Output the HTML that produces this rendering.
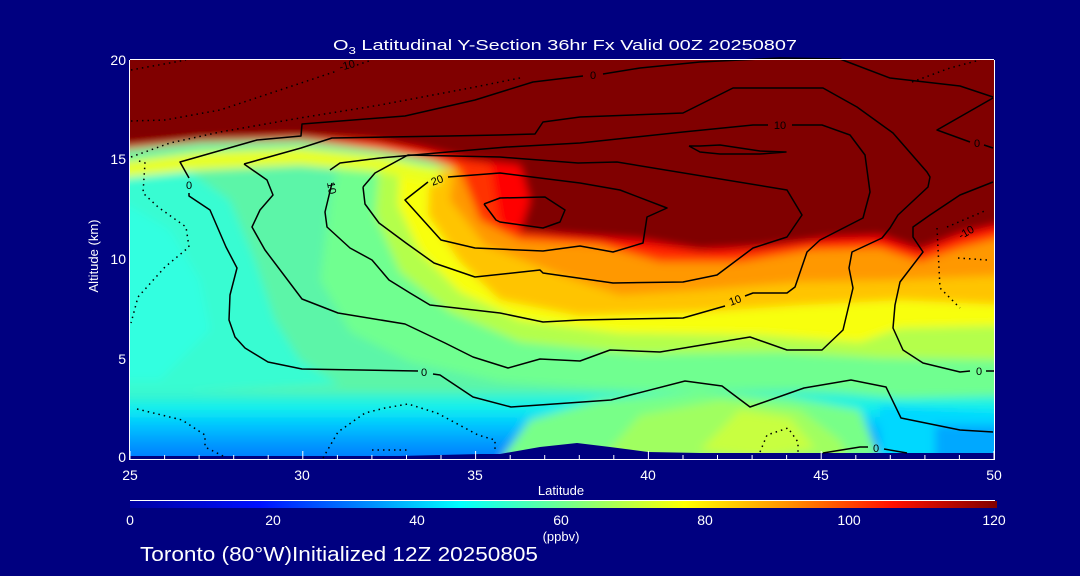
<!DOCTYPE html>
<html><head><meta charset="utf-8"><style>
html,body{margin:0;padding:0;background:#000080;}
svg{display:block;font-family:"Liberation Sans",sans-serif;}
</style></head><body>
<svg width="1080" height="576" viewBox="0 0 1080 576" xmlns="http://www.w3.org/2000/svg">
<defs>
<clipPath id="pc"><rect x="130" y="60" width="864" height="399"/></clipPath>
<filter id="bl" x="-5%" y="-5%" width="110%" height="110%"><feGaussianBlur stdDeviation="4.5"/></filter>
<linearGradient id="bot" x1="0" y1="0" x2="0" y2="1">
<stop offset="0" stop-color="#40f5c8"/><stop offset="0.2" stop-color="#10f0ee"/>
<stop offset="0.4" stop-color="#00c8ff"/><stop offset="0.65" stop-color="#0098ff"/>
<stop offset="0.85" stop-color="#0078ff"/><stop offset="1" stop-color="#0060f0"/>
</linearGradient>
<linearGradient id="cb" x1="0" y1="0" x2="1" y2="0">
<stop offset="0" stop-color="#0000a0"/><stop offset="0.15" stop-color="#0010ff"/>
<stop offset="0.28" stop-color="#0090ff"/><stop offset="0.38" stop-color="#00ffff"/>
<stop offset="0.5" stop-color="#70ff90"/><stop offset="0.64" stop-color="#ffff00"/>
<stop offset="0.76" stop-color="#ff9000"/><stop offset="0.88" stop-color="#ff1000"/>
<stop offset="1" stop-color="#800000"/>
</linearGradient>
</defs>

<g clip-path="url(#pc)">
<g filter="url(#bl)">
<rect x="120" y="50" width="890" height="420" fill="#5cf5a8"/>
<polygon points="120,160 180,165 230,200 255,260 275,320 300,360 340,385 120,395" fill="#38fcd2"/>
<polygon points="120,200 170,230 200,280 210,330 160,380 120,380" fill="#30ffe0"/>
<rect x="120" y="392" width="890" height="80" fill="url(#bot)"/>
<polygon points="500,460 530,420 600,400 700,392 790,398 860,410 880,460" fill="#78ff88"/>
<polygon points="600,460 640,415 720,400 800,410 840,440 850,460" fill="#a0ff60"/>
<polygon points="700,450 740,410 790,418 815,448 760,458" fill="#c8ff40"/>
<polygon points="880,405 994,412 1010,470 880,470" fill="#00d8ff"/>
<polygon points="935,425 1010,425 1010,470 935,470" fill="#00a8ff"/>
<polygon points="340,160 400,158 470,175 1010,200 1010,395 900,398 800,388 650,392 500,382 410,362 350,332 320,280 330,200" fill="#70ff90"/>
<polygon points="380,160 450,168 1010,215 1010,360 880,358 780,352 640,354 520,342 450,312 400,272 375,215" fill="#b4ff4c"/>
<polygon points="400,165 1010,215 1010,325 900,328 860,342 760,335 620,333 520,320 460,292 420,252 398,205" fill="#f8ff08"/>
<polygon points="430,168 1010,215 1010,305 900,300 800,305 700,312 580,316 500,300 460,262 428,215" fill="#ffc400"/>
<polygon points="455,165 1010,215 1010,275 900,280 800,282 700,290 620,295 560,275 485,245 450,200" fill="#ff9800"/>
<polygon points="120,162 200,152 300,148 380,156 440,170 440,185 380,172 300,165 200,170 120,178" fill="#e8ff20"/>
<polygon points="120,150 200,142 300,140 380,150 430,160 460,170 480,220 520,240 600,245 660,262 740,262 810,250 880,248 920,262 960,248 1010,235 1010,50 120,50" fill="#ff3000"/>
<polygon points="120,146 200,139 300,136 380,142 440,158 490,165 500,225 560,238 640,248 720,255 800,245 870,243 920,255 960,240 1010,228 1010,50 120,50" fill="#ff0000"/>
<polygon points="120,146 200,139 290,136 370,140 420,148 470,160 520,165 530,200 520,232 580,236 640,240 700,250 760,247 830,238 880,236 920,250 960,234 1010,222 1010,50 120,50" fill="#800000"/>
</g>
<polygon points="130,460 130,456 400,456 440,455 480,454 500,454 540,447 577,443 610,447 648,452 700,453 994,453 994,460" fill="#000080"/>
</g>

<g fill="none" stroke="#000" stroke-width="1.5" stroke-linejoin="round">
<polyline points="189,193 189,196 210,210 226,247 237,268 230,295 229,320 235,337 245,348 268,362 302,369 418,371"/>
<polyline points="189,178 180,162 257,140 301,136 302,124 405,116 475,100 533,82 583,76"/>
<polyline points="603,74 640,68 700,62 780,58 840,59 890,78 960,86 993,97"/>
<polyline points="433,374 440,375 473,397 511,407 611,400 685,381 722,386 750,407 804,388 851,380 886,387 901,418 960,430 993,432"/>
<polyline points="244,164 267,180 273,195 260,210 252,227 265,250 302,299 338,313 405,324 445,343 473,357 508,368 540,359 580,361 610,350 660,352 750,337 787,350 822,350 843,330 853,288 849,268 852,252 882,238 890,228 898,215 928,187 930,177 927,172 893,133 857,107 823,88 733,88 683,113 580,117 543,122 535,134 500,135 448,136 332,138 301,148 244,164"/>
<polyline points="332,183 325,212 327,227 350,248 372,260 389,280 410,293 430,305 500,313 543,322 580,320 683,318 725,306"/>
<polyline points="745,296 753,293 787,293 795,287 807,252 820,240 863,218 870,192 865,155 850,135 822,125 792,125"/>
<polyline points="768,125 753,125 683,132 580,143 507,147 448,152 380,158 340,163 330,170"/>
<polyline points="363,187 365,204 379,223 406,243 434,263 475,277 540,270 543,273 613,283 683,282 717,275 753,248 787,237 802,215 787,190 617,162 578,163 500,157 408,155 375,173 363,187"/>
<polyline points="428,182 405,200 441,240 475,248 543,251 580,246 613,252 643,243 647,217 667,208 620,190 580,183 500,173 448,177"/>
<polyline points="484,204 500,198 545,197 565,210 560,222 543,228 500,222 496,220 484,204"/>
<polyline points="689,146 700,146 720,145 760,151 786,152 760,154 720,154 700,152 689,146"/>
<polyline points="970,371 960,372 923,363 903,350 893,328 895,305 900,282 923,252 913,237 913,227 930,215 960,195 993,182"/>
<polyline points="993,98 937,130 970,142"/>
<polyline points="984,145 993,148"/>
<polyline points="823,453 860,447 868,447"/>
<polyline points="884,449 907,453"/>
<polyline points="986,371 994,371"/>
</g>
<g fill="none" stroke="#000" stroke-width="1.5" stroke-dasharray="1.5,4">
<polyline points="131,70 186,60"/>
<polyline points="131,121 165,120 220,110 337,71"/>
<polyline points="357,65 372,60"/>
<polyline points="131,157 170,143 220,132 300,118 380,105 470,88 520,78"/>
<polyline points="139,161 145,163 143,193 158,207 186,227 189,247 165,267 138,297 131,323"/>
<polyline points="137,409 182,420 205,435 205,447 225,457"/>
<polyline points="323,458 338,432 365,413 385,408 408,404 437,413 478,435 495,440 495,450"/>
<polyline points="372,450 410,450"/>
<polyline points="760,452 767,435 788,428 798,442 798,452"/>
<polyline points="937,228 940,288 960,308"/>
<polyline points="958,258 987,260"/>
<polyline points="947,227 987,210"/>
<polyline points="912,82 950,68 980,60"/>
</g>
<g font-size="11" fill="#000" text-anchor="middle">
<text x="593" y="79">0</text>
<text x="424" y="376">0</text>
<text x="189" y="189">0</text>
<text x="332" y="192" transform="rotate(80 332 188)">10</text>
<text x="437" y="184" transform="rotate(-20 437 180)">20</text>
<text x="735" y="304" transform="rotate(-20 735 300)">10</text>
<text x="780" y="129">10</text>
<text x="347" y="69" transform="rotate(-15 347 65)">-10</text>
<text x="966" y="236" transform="rotate(-30 966 232)">-10</text>
<text x="977" y="147">0</text>
<text x="979" y="375">0</text>
<text x="876" y="452">0</text>
</g>

<g stroke="#fff" stroke-width="1" fill="none">
<line x1="130" y1="59.5" x2="994" y2="59.5"/>
<line x1="129.5" y1="60" x2="129.5" y2="460"/>
<line x1="994.5" y1="60" x2="994.5" y2="460"/>
<line x1="130" y1="459.5" x2="995" y2="459.5"/>
<path d="M130,459v-8M302.8,459v-8M475.6,459v-8M648.4,459v-8M821.2,459v-8M994,459v-8
M164.6,459v-4M199.1,459v-4M233.7,459v-4M268.2,459v-4M337.4,459v-4M371.9,459v-4M406.5,459v-4M441,459v-4M510.2,459v-4M544.7,459v-4M579.3,459v-4M613.8,459v-4M683,459v-4M717.5,459v-4M752.1,459v-4M786.6,459v-4M855.8,459v-4M890.3,459v-4M924.9,459v-4M959.4,459v-4"/>
<line x1="130" y1="500.5" x2="995" y2="500.5"/>
</g>
<rect x="130" y="501" width="867" height="7" fill="url(#cb)"/>

<g fill="#fff" font-size="14">
<text x="565" y="50" text-anchor="middle" font-size="15" textLength="464" lengthAdjust="spacingAndGlyphs">O<tspan font-size="10" dy="4">3</tspan><tspan dy="-4"> Latitudinal Y-Section 36hr  Fx Valid 00Z 20250807</tspan></text>
<text x="126" y="65" text-anchor="end">20</text>
<text x="126" y="164" text-anchor="end">15</text>
<text x="126" y="264" text-anchor="end">10</text>
<text x="126" y="364" text-anchor="end">5</text>
<text x="126" y="462" text-anchor="end">0</text>
<text x="0" y="0" text-anchor="middle" font-size="13" transform="translate(98,256) rotate(-90)">Altitude (km)</text>
<g text-anchor="middle">
<text x="130" y="480">25</text><text x="302" y="480">30</text><text x="475" y="480">35</text>
<text x="648" y="480">40</text><text x="821" y="480">45</text><text x="994" y="480">50</text>
<text x="561" y="495" font-size="13">Latitude</text>
<text x="130" y="525">0</text><text x="273" y="525">20</text><text x="417" y="525">40</text>
<text x="561" y="525">60</text><text x="705" y="525">80</text><text x="849" y="525">100</text><text x="994" y="525">120</text>
<text x="561" y="541" font-size="13">(ppbv)</text>
</g>
<text x="140" y="561" font-size="20" textLength="398" lengthAdjust="spacingAndGlyphs">Toronto (80°W)Initialized 12Z 20250805</text>
</g>
</svg>
</body></html>
